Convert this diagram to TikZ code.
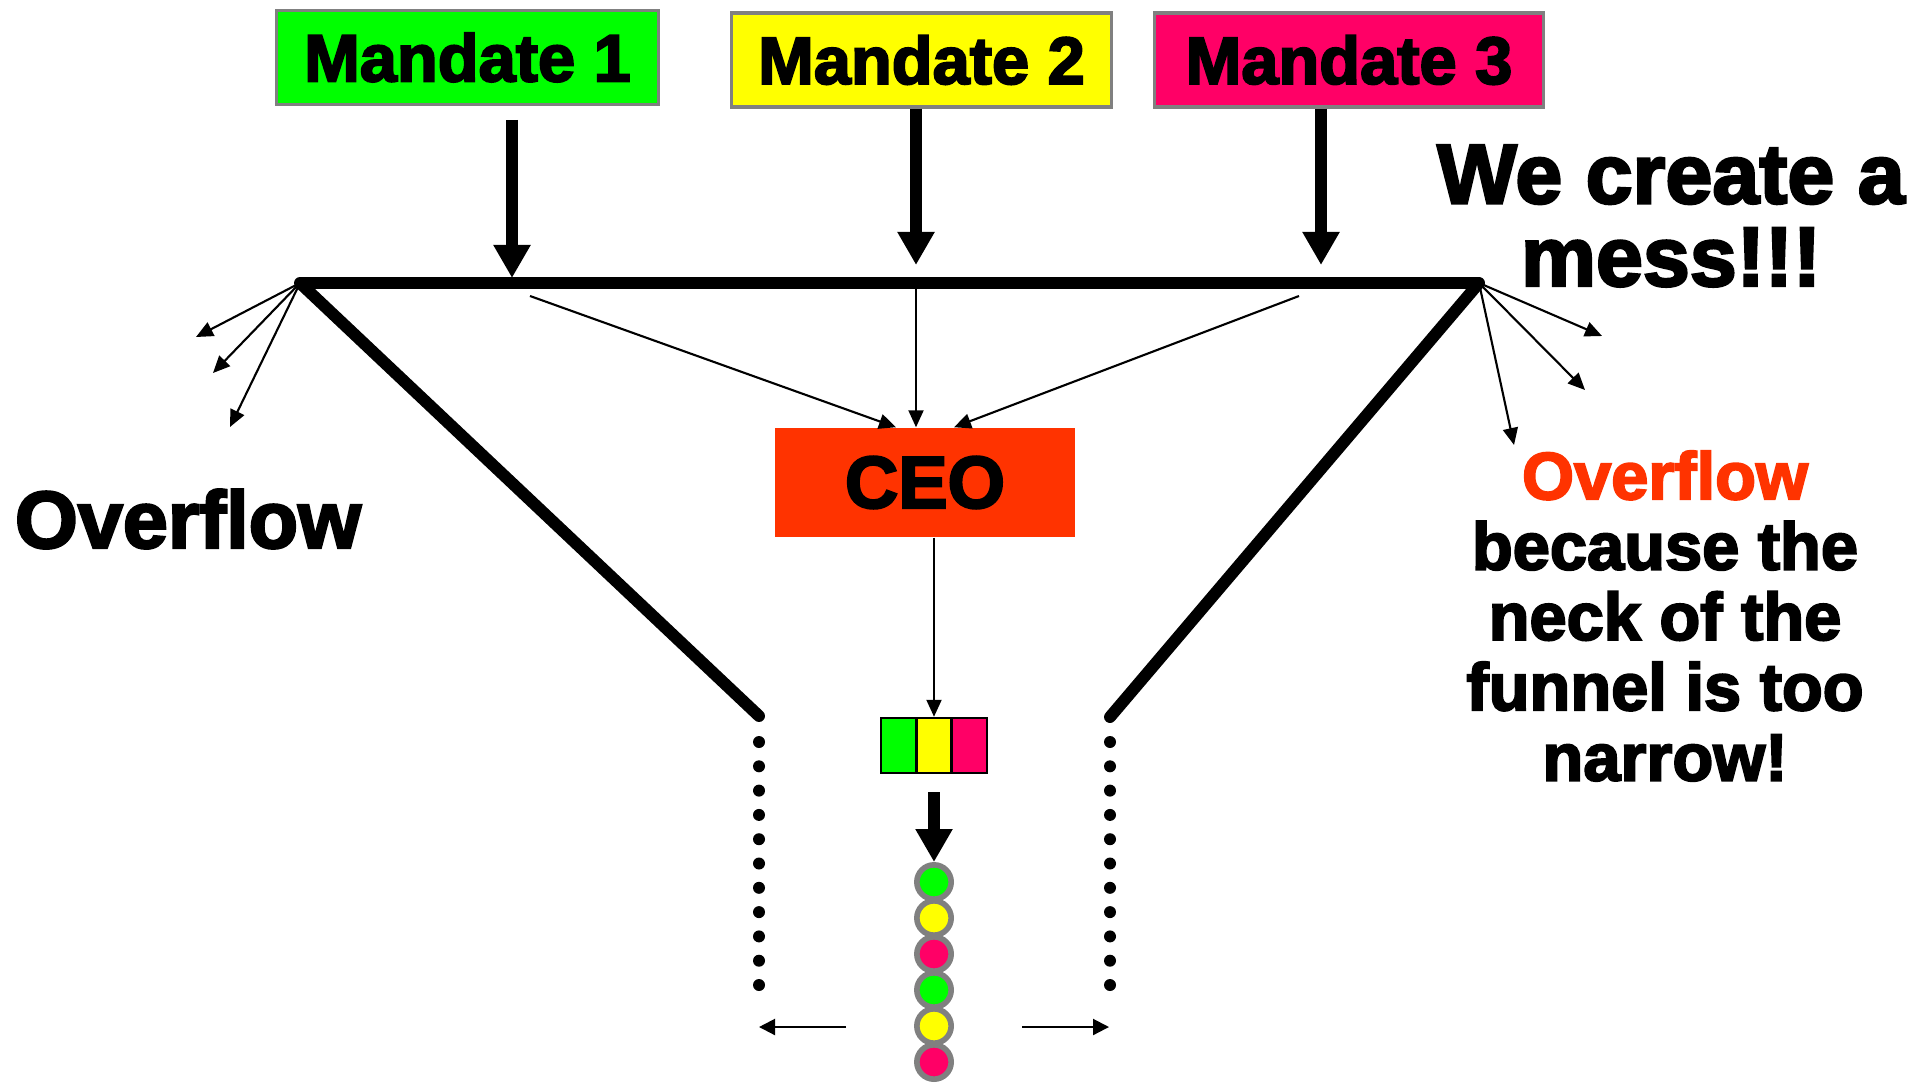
\documentclass[tikz,border=0pt]{standalone}
\usepackage{fontspec}
\usetikzlibrary{positioning,arrows.meta,calc}
\newfontfamily\heavy[FakeBold=3]{Liberation Sans Bold}
\definecolor{mgreen}{HTML}{00FF00}
\definecolor{myellow}{HTML}{FFFF00}
\definecolor{mpink}{HTML}{FF0066}
\definecolor{mred}{HTML}{FF3300}

\begin{document}
\begin{tikzpicture}[
    x=0.01cm, y=-0.01cm,
    font=\heavy,
    mandate/.style ={
        draw=gray,
        line width=0.9pt,
        minimum height=0.94cm,
        inner sep=0pt,
        font=\heavy\fontsize{19}{21}\selectfont
    },
    cell/.style ={
        draw=black,
        line width=0.7pt,
        minimum width=0.353cm,
        minimum height=0.55cm,
        inner sep=0pt
    },
    ball/.style ={
        circle,
        draw=gray,
        line width=1.6pt,
        minimum size=0.343cm,
        inner sep=0pt
    },
    funnel/.style ={line width=3.4pt},
    bigarrow/.style ={line width=3.4pt, -{Triangle[length=0.33cm,width=0.35cm]}},
    thinarrow/.style ={line width=0.6pt, -{Triangle[length=0.17cm,width=0.15cm]}}
    ]
    \useasboundingbox (0,0) rectangle (1913,1082);

    % mandates
    \node[mandate, fill=mgreen, minimum width=3.81cm] (m1) at (467.5,57.5) {Mandate 1};
    \node[mandate, fill=myellow, minimum width=3.79cm] (m2) at (921.5,60) {Mandate 2};
    \node[mandate, fill=mpink, minimum width=3.88cm] (m3) at (1349,60) {Mandate 3};

    % funnel
    \coordinate (tl) at (300,283);
    \coordinate (tr) at (1479,283);
    \coordinate (nl) at (759,716);
    \coordinate (nr) at (1110,717);
    \draw[funnel] (tl) -- (tr);
    \draw[funnel, line cap=round] (tl) -- (nl);
    \draw[funnel, line cap=round] (tr) -- (nr);
    \foreach \i in {0,...,10} {
        \fill (nl |- 0,{742+24.3*\i}) circle (6);
        \fill (nr |- 0,{742+24.3*\i}) circle (6);
    }

    \coordinate (h1) at (512,278);
    \coordinate (h2) at (916,265);
    \coordinate (h3) at (1321,265);
    \coordinate (s1) at (512,120);
    \draw[bigarrow] (s1) -- (h1);
    \draw[bigarrow] (m2.south -| h2) -- (h2);
    \draw[bigarrow] (m3.south -| h3) -- (h3);

    % ceo
    \node[fill=mred, minimum width=3cm, minimum height=1.09cm,
          font=\heavy\fontsize{21}{23}\selectfont] (ceo) at (925,482.5) {CEO};
    \coordinate (f1) at (530,296);
    \coordinate (f2) at (916,289);
    \coordinate (f3) at (1299,296);
    \draw[thinarrow] (f1) -- ($(ceo.north)+(-29,0)$);
    \draw[thinarrow] (f2) -- (f2 |- ceo.north);
    \draw[thinarrow] (f3) -- ($(ceo.north)+(29,0)$);

    % overflow at the rim
    \coordinate (ol1) at (196,337);
    \coordinate (ol2) at (213,373);
    \coordinate (ol3) at (230,427);
    \coordinate (or1) at (1602,336);
    \coordinate (or2) at (1585,390);
    \coordinate (or3) at (1514,445);
    \foreach \o in {ol1,ol2,ol3} \draw[thinarrow] (tl) -- (\o);
    \foreach \o in {or1,or2,or3} \draw[thinarrow] (tr) -- (\o);

    % the neck
    \node[cell, fill=mgreen] (c1) at (898.7,745.5) {};
    \node[cell, fill=myellow] (c2) at (934,745.5) {};
    \node[cell, fill=mpink] (c3) at (969.3,745.5) {};
    \draw[thinarrow] (ceo.south -| c2.north) -- (c2.north);

    \foreach \c [count=\i from 0] in {mgreen,myellow,mpink,mgreen,myellow,mpink}
        \node[ball, fill=\c] (b\i) at (934,{882+36*\i}) {};
    \draw[bigarrow] ($(c2.south)+(0,18)$) -- (b0.north);

    \coordinate (al0) at (846,1027);
    \coordinate (al) at (759,1027);
    \coordinate (ar0) at (1022,1027);
    \coordinate (ar) at (1109,1027);
    \draw[line width=0.6pt, -{Triangle[length=0.16cm,width=0.16cm]}] (al0) -- (al);
    \draw[line width=0.6pt, -{Triangle[length=0.16cm,width=0.16cm]}] (ar0) -- (ar);

    % texts
    \node[font=\heavy\fontsize{23}{25}\selectfont] (ovl) at (188,519) {Overflow};
    \node[align=center, font=\heavy\fontsize{24}{23.5}\selectfont] (mess) at (1671,216)
        {We create a\\mess!!!};
    \node[align=center, font=\heavy\fontsize{19}{20}\selectfont] (ovr) at (1665,616)
        {\textcolor{mred}{Overflow}\\because the\\neck of the\\funnel is too\\narrow!};
\end{tikzpicture}
\end{document}
